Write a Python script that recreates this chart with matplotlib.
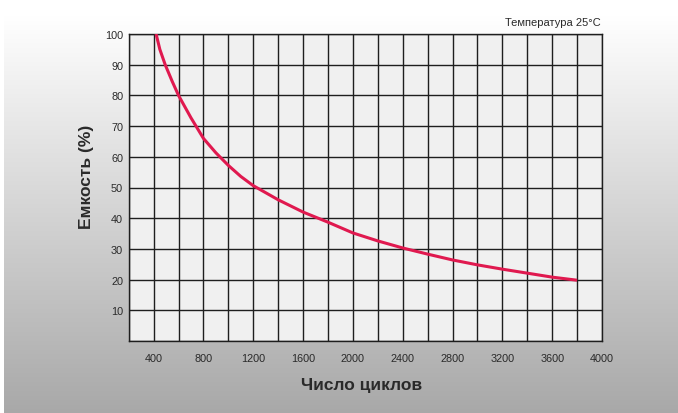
import numpy as np
import matplotlib
matplotlib.use("Agg")
import matplotlib.pyplot as plt

# Data
cycles = [420, 450, 493, 550, 600, 700, 800, 900, 1000, 1100, 1200, 1400, 1600,
          1800, 2000, 2200, 2400, 2600, 2800, 3000, 3200, 3400, 3600, 3800]
capacity = [100, 95, 90, 84.5, 80, 72.7, 66, 61.3, 57.2, 53.6, 50.6, 46.0, 42.0,
            38.7, 35.2, 32.6, 30.3, 28.3, 26.4, 24.8, 23.4, 22.1, 20.8, 19.8]
x_ticks = [400, 800, 1200, 1600, 2000, 2400, 2800, 3200, 3600, 4000]
y_ticks = [10, 20, 30, 40, 50, 60, 70, 80, 90, 100]

plt.rcParams['font.family'] = ['Liberation Sans', 'DejaVu Sans']

W, H = 678, 414
fig = plt.figure(figsize=(W / 100, H / 100), dpi=100)
fig.patch.set_facecolor('#d0d0d0')

# background gradient (pixel image)
g = np.linspace(0, 1, H)
vals = np.clip((g - 0.04) / 0.96, 0, 1)
col = 1.0 - 0.34 * vals
img = np.repeat(col[:, None], W, axis=1)
img[:, :4] = 1.0
rgb = np.dstack([img, img, img])
fig.figimage(rgb, xo=0, yo=0, origin='upper', zorder=0)

ax = fig.add_axes([128.7 / W, (H - 342) / H, (602 - 128.7) / W, (342 - 35) / H], zorder=1)
ax.set_facecolor('#f0f0f0')
ax.set_xlim(200, 4000)
ax.set_ylim(0, 100)

for xv in np.arange(200, 4001, 200):
    ax.axvline(xv, color='#1e1e1e', lw=1.0, zorder=1)
for yv in np.arange(0, 101, 10):
    ax.axhline(yv, color='#1e1e1e', lw=1.0, zorder=1)

ax.plot(cycles, capacity, color='#e0194f', lw=2.2, zorder=3,
        solid_capstyle='butt', solid_joinstyle='round')

for s in ax.spines.values():
    s.set_color('#1e1e1e')
    s.set_linewidth(1.0)

ax.set_xticks(x_ticks)
ax.set_xticklabels([str(v) for v in x_ticks])
ax.set_yticks(y_ticks)
ax.set_yticklabels([str(v) for v in y_ticks])
ax.tick_params(axis='both', length=0, labelsize=7.8, labelcolor='#2a2a2a')
ax.tick_params(axis='x', pad=9)
ax.tick_params(axis='y', pad=4)

fig.text(86 / W, 1 - 177 / H, 'Емкость (%)', rotation=90, ha='center', va='center',
         fontsize=12.5, fontweight='bold', color='#2a2a2a')
fig.text(362 / W, 1 - 386 / H, 'Число циклов', ha='center', va='center',
         fontsize=12.5, fontweight='bold', color='#2a2a2a')
fig.text(601 / W, 1 - 23 / H, 'Температура 25°C', ha='right', va='center',
         fontsize=8, color='#2a2a2a')

fig.savefig('out.png', dpi=100, facecolor=fig.get_facecolor())
